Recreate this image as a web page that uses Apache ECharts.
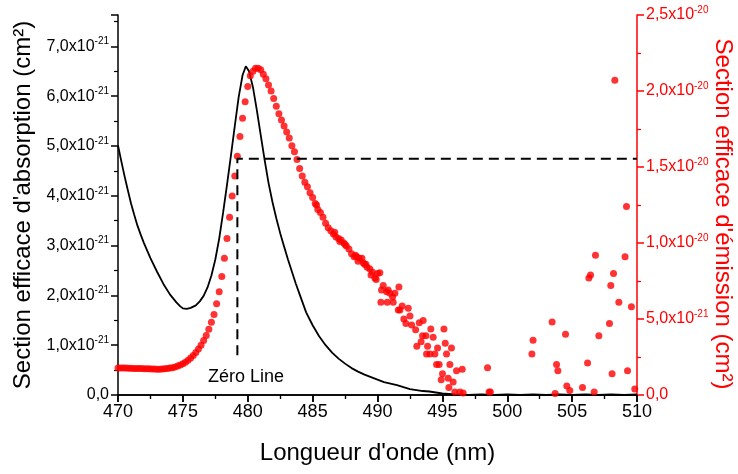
<!DOCTYPE html>
<html>
<head>
<meta charset="utf-8">
<script src="https://cdn.jsdelivr.net/npm/echarts@6.0.0/dist/echarts.min.js"></script>
<style>
  html, body { margin: 0; padding: 0; background: #fff; }
  #chart { width: 738px; height: 474px; }
</style>
</head>
<body>
<div id="chart"></div>
<script>
// absorption, left axis, unit 1e-21 cm2
const absWave = [470.0, 470.25, 470.5, 470.75, 471.0, 471.25, 471.5, 471.75, 472.0, 472.5,
  473.0, 473.5, 474.0, 474.5, 474.8, 475.0, 475.3, 475.6, 476.0, 476.3,
  476.6, 476.9, 477.2, 477.5, 477.8, 478.1, 478.4, 478.7, 479.0, 479.3,
  479.6, 479.85, 480.1, 480.4, 480.7, 481.0, 481.3, 481.6, 481.9, 482.2,
  482.5, 482.8, 483.1, 483.4, 483.7, 484.0, 484.5, 485.0, 485.5, 486.0,
  486.5, 487.0, 487.5, 488.0, 488.5, 489.0, 489.5, 490.0, 490.5, 491.0,
  491.5, 492.0, 492.5, 493.0, 493.5, 494.0, 494.5, 495.0, 495.5, 496.0,
  497.0, 498.0, 499.0, 500.0, 501.0, 502.0, 503.0, 504.0, 505.0, 506.0,
  507.0, 508.0, 509.0, 510.0]
const absValue = [5.01, 4.70, 4.40, 4.12, 3.85, 3.62, 3.40, 3.22, 3.05, 2.75,
  2.48, 2.23, 2.02, 1.86, 1.78, 1.74, 1.73, 1.75, 1.80, 1.88,
  1.99, 2.16, 2.40, 2.72, 3.14, 3.66, 4.22, 4.80, 5.40, 5.98,
  6.42, 6.60, 6.50, 6.18, 5.72, 5.22, 4.72, 4.26, 3.88, 3.55,
  3.25, 2.98, 2.72, 2.48, 2.24, 2.02, 1.66, 1.40, 1.18, 1.00,
  0.85, 0.73, 0.63, 0.54, 0.47, 0.41, 0.36, 0.31, 0.26, 0.23,
  0.20, 0.16, 0.12, 0.10, 0.08, 0.07, 0.05, 0.03, 0.02, 0.01,
  0.00, 0.01, 0.00, 0.01, 0.00, 0.01, 0.00, 0.01, 0.00, 0.01,
  0.00, 0.01, 0.00, 0.01]

// emission, right axis, unit 1e-20 cm2
const emWave = [470.0, 470.2, 470.4, 470.6, 470.8, 471.0, 471.2, 471.4, 471.6, 471.8,
  472.0, 472.2, 472.4, 472.6, 472.8, 473.0, 473.2, 473.4, 473.6, 473.8,
  474.0, 474.2, 474.4, 474.6, 474.8, 475.0, 475.2, 475.4, 475.6, 475.8,
  476.0, 476.2, 476.4, 476.6, 476.8, 477.0, 477.2, 477.4, 477.6, 477.8,
  478.0, 478.2, 478.4, 478.6, 478.8, 479.0, 479.2, 479.4, 479.6, 479.8,
  480.0, 480.2, 480.4, 480.6, 480.8, 481.0, 481.2, 481.4, 481.6, 481.8,
  482.0, 482.2, 482.4, 482.6, 482.8, 483.0, 483.2, 483.4, 483.6, 483.8,
  484.0, 484.2, 484.4, 484.6, 484.8, 485.0, 485.2, 485.4, 485.6, 485.8,
  486.0, 486.2, 486.4, 486.6, 486.8, 487.0, 487.2, 487.4, 487.6, 487.8,
  488.0, 488.2, 488.4, 488.6, 488.8, 489.0, 489.2, 489.4, 489.6, 489.8,
  490.0, 485.3, 486.7, 487.1, 487.5, 488.3, 488.5, 488.9, 489.1, 489.5,
  489.9, 490.18, 490.26, 490.31, 490.44, 490.7, 490.75, 490.82, 490.96, 491.16,
  491.21, 491.34, 491.6, 491.65, 491.73, 491.9, 492.03, 492.19, 492.37, 492.5,
  492.63, 492.94, 493.03, 493.22, 493.36, 493.47, 493.52, 493.73, 493.78, 493.86,
  494.04, 494.11, 494.29, 494.42, 494.55, 494.63, 494.75, 494.91, 495.01, 495.12,
  495.22, 495.32, 495.45, 495.5, 495.58, 495.7, 495.83, 495.96, 496.09, 496.35,
  496.53, 496.6, 498.48, 498.6, 498.7, 501.9, 501.99, 503.46, 503.69, 503.8,
  503.9, 504.49, 504.59, 504.82, 505.8, 506.19, 506.29, 506.42, 506.7, 506.8,
  507.06, 507.88, 507.98, 508.08, 508.19, 508.29, 508.6, 509.08, 509.19, 509.27,
  509.57, 509.83]
const emValue = [0.178, 0.178, 0.177, 0.177, 0.176, 0.176, 0.175, 0.175, 0.174, 0.174,
  0.173, 0.172, 0.172, 0.171, 0.171, 0.170, 0.170, 0.171, 0.172, 0.174,
  0.177, 0.180, 0.184, 0.190, 0.198, 0.206, 0.216, 0.228, 0.243, 0.260,
  0.280, 0.302, 0.328, 0.358, 0.392, 0.432, 0.478, 0.530, 0.600, 0.680,
  0.780, 0.900, 1.030, 1.170, 1.310, 1.440, 1.570, 1.700, 1.820, 1.930,
  2.030, 2.100, 2.130, 2.150, 2.150, 2.140, 2.110, 2.080, 2.040, 2.000,
  1.950, 1.900, 1.850, 1.810, 1.770, 1.730, 1.690, 1.640, 1.600, 1.550,
  1.490, 1.440, 1.400, 1.370, 1.330, 1.300, 1.260, 1.220, 1.200, 1.170,
  1.130, 1.100, 1.080, 1.060, 1.040, 1.030, 1.020, 1.000, 0.980, 0.960,
  0.930, 0.910, 0.910, 0.900, 0.900, 0.860, 0.840, 0.830, 0.810, 0.770,
  0.800, 1.250, 1.070, 1.010, 0.990, 0.920, 0.880, 0.870, 0.860, 0.790,
  0.760, 0.805, 0.610, 0.690, 0.720, 0.680, 0.610, 0.690, 0.670, 0.645,
  0.610, 0.670, 0.560, 0.710, 0.560, 0.585, 0.500, 0.470, 0.570, 0.520,
  0.460, 0.430, 0.320, 0.475, 0.350, 0.390, 0.490, 0.390, 0.270, 0.320,
  0.270, 0.435, 0.380, 0.270, 0.200, 0.310, 0.200, 0.100, 0.140, 0.435,
  0.340, 0.270, 0.110, 0.050, 0.200, 0.310, 0.085, 0.020, 0.160, 0.020,
  0.170, 0.013, 0.180, 0.020, 0.020, 0.270, 0.360, 0.480, 0.010, 0.200,
  0.160, 0.400, 0.060, 0.030, 0.050, 0.210, 0.770, 0.790, 0.020, 0.920,
  0.390, 0.470, 0.720, 0.140, 0.800, 2.070, 0.610, 0.910, 1.240, 0.160,
  0.580, 0.040]

// dashed "zero line" guide (right axis units)
const guideWave = [479.2, 479.2, 510]
const guideValue = [0.262, 1.555, 1.555]
const guideLabel = 'Zéro Line'
const guideLabelAt = [479.86, 0.118]

const rightTitle = "Section efficace d'émission (cm²)"

const font = 'Liberation Sans, Arial, sans-serif'
const chart = echarts.init(document.getElementById('chart'))

const sci = (mant, exp) => '{m|' + mant.toFixed(1).replace('.', ',') + 'x10}{s|' + exp + '}'

const option = {
  animation: false,
  textStyle: { fontFamily: font },
  grid: { left: 118, right: 101, top: 15, bottom: 79, containLabel: false, outerBoundsMode: 'none' },
  // right axis title drawn by hand, reading top to bottom
  graphic: [{
    type: 'text',
    x: 723,
    y: 214,
    rotation: -Math.PI / 2,
    style: {
      text: rightTitle,
      fontSize: 24,
      fontFamily: font,
      fill: '#ff0000',
      align: 'center',
      verticalAlign: 'middle'
    }
  }],
  xAxis: [{
    type: 'value',
    min: 470,
    max: 510,
    interval: 5,
    name: "Longueur d'onde (nm)",
    nameLocation: 'middle',
    nameGap: 46,
    nameTextStyle: { fontSize: 24, color: '#000', fontFamily: font },
    axisLine: { lineStyle: { color: '#000', width: 1.5 } },
    axisTick: { length: 7, lineStyle: { color: '#000', width: 1.5 } },
    minorTick: { show: true, splitNumber: 2, length: 4, lineStyle: { color: '#000', width: 1.2 } },
    axisLabel: { fontSize: 18, color: '#000', margin: 8, fontFamily: font },
    splitLine: { show: false }
  }, {
    type: 'value',
    position: 'top',
    min: 470,
    max: 510,
    interval: 5,
    axisLine: { lineStyle: { color: '#000', width: 1.5 } },
    axisTick: { inside: true, length: 7, lineStyle: { color: '#000', width: 1.5 } },
    minorTick: { show: true, splitNumber: 2, length: 4, lineStyle: { color: '#000', width: 1.2 } },
    axisLabel: { show: false },
    splitLine: { show: false }
  }],
  yAxis: [{
    type: 'value',
    min: 0,
    max: 7.63,
    interval: 1,
    name: "Section efficace d'absorption (cm²)",
    nameLocation: 'middle',
    nameGap: 78,
    nameTextStyle: { fontSize: 24, color: '#000', fontFamily: font },
    axisLine: { show: true, lineStyle: { color: '#000', width: 1.5 } },
    axisTick: { length: 7, lineStyle: { color: '#000', width: 1.5 } },
    minorTick: { show: true, splitNumber: 2, length: 4, lineStyle: { color: '#000', width: 1.2 } },
    axisLabel: {
      showMaxLabel: false,
      margin: 9,
      color: '#000',
      formatter: v => v === 0 ? '{m|0,0}' : sci(v, -21),
      rich: {
        m: { fontSize: 16, lineHeight: 20, color: '#000', fontFamily: font },
        s: { fontSize: 10, lineHeight: 12, verticalAlign: 'top', color: '#000', fontFamily: font }
      }
    },
    splitLine: { show: false }
  }, {
    type: 'value',
    position: 'right',
    min: 0,
    max: 2.5,
    interval: 0.5,
    axisLine: { show: true, lineStyle: { color: '#ff0000', width: 1.5 } },
    axisTick: { length: 7, lineStyle: { color: '#ff0000', width: 1.5 } },
    minorTick: { show: true, splitNumber: 2, length: 4, lineStyle: { color: '#ff0000', width: 1.2 } },
    axisLabel: {
      margin: 9,
      color: '#ff0000',
      formatter: v => v === 0 ? '{m|0,0}' : (v < 1 ? sci(v * 10, -21) : sci(v, -20)),
      rich: {
        m: { fontSize: 16, lineHeight: 20, color: '#ff0000', fontFamily: font },
        s: { fontSize: 10, lineHeight: 12, verticalAlign: 'top', color: '#ff0000', fontFamily: font }
      }
    },
    splitLine: { show: false }
  }],
  series: [{
    name: 'absorption',
    type: 'line',
    yAxisIndex: 0,
    showSymbol: false,
    symbol: 'none',
    lineStyle: { color: '#000', width: 1.8 },
    data: absWave.map((w, i) => [w, absValue[i]]),
    z: 3
  }, {
    name: 'emission',
    type: 'scatter',
    yAxisIndex: 1,
    symbolSize: 7,
    itemStyle: { color: '#ff0000' },
    data: emWave.map((w, i) => [w, emValue[i]]),
    z: 4
  }, {
    name: 'guide',
    type: 'line',
    yAxisIndex: 1,
    symbol: 'none',
    lineStyle: { color: '#000', width: 2, type: [10, 6] },
    data: guideWave.map((w, i) => [w, guideValue[i]]),
    markPoint: {
      symbol: 'circle',
      symbolSize: 0,
      label: { show: true, position: 'inside', formatter: guideLabel, fontSize: 18, color: '#000', fontFamily: font },
      data: [{ coord: guideLabelAt }]
    },
    z: 5
  }]
}

chart.setOption(option)
</script>
</body>
</html>
